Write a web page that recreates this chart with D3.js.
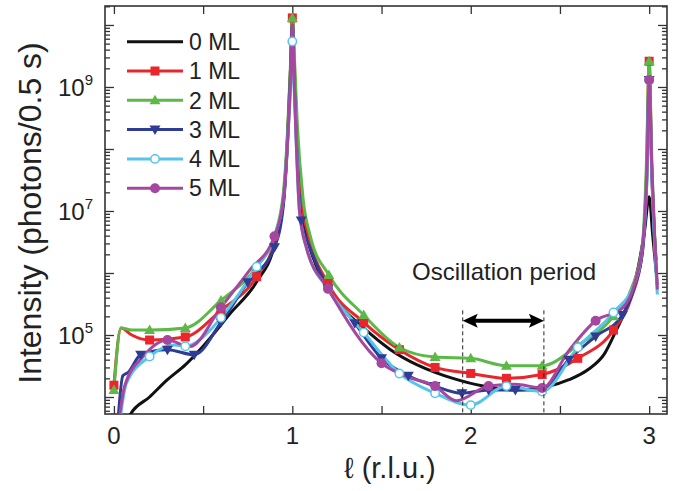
<!DOCTYPE html>
<html>
<head>
<meta charset="utf-8">
<script src="https://cdn.jsdelivr.net/npm/d3@7"></script>
<style>
  body { margin: 0; background: #fff; }
  text { font-family: "Liberation Sans", Arial, sans-serif; fill: #222; }
</style>
</head>
<body>
<svg id="chart" width="677" height="491"></svg>
<script>
// series names, colours and symbols
const names = ["0 ML", "1 ML", "2 ML", "3 ML", "4 ML", "5 ML"];
const colors = ["#111111", "#e8262b", "#5cb947", "#2e3c96", "#56c5ea", "#a6479f"];
const symbols = [null, "square", "up", "down", "open", "circle"];

// [l, intensity, marker?]
const ml0 = [[0.03, 1e3], [0.09, 5.1e3], [0.2, 1.0e4], [0.3, 1.9e4], [0.4, 3.3e4], [0.5, 6.6e4],
  [0.65, 2.2e5], [0.8, 7.2e5], [0.9, 2.8e6], [0.95, 1.4e7], [0.975, 2e8], [0.99, 2e9], [1.0, 1.26e10],
  [1.012, 1.6e9], [1.025, 1.6e8], [1.045, 1.6e7], [1.08, 4e6], [1.13, 1.4e6], [1.227, 4.2e5],
  [1.4, 1.3e5], [1.55, 5.8e4], [1.7, 3.3e4], [1.8, 2.5e4], [1.9, 2e4], [2.07, 1.5e4], [2.25, 1.3e4],
  [2.44, 1.5e4], [2.55, 1.9e4], [2.66, 2.8e4], [2.75, 5e4], [2.81, 1.1e5], [2.88, 3.2e5], [2.94, 1.3e6],
  [2.975, 5e6], [3.0, 1.7e7], [3.02, 4e6], [3.04, 1e6]];

const ml1 = [[0.0, 1.55e4, 1], [0.04, 1.3e5], [0.1, 1.0e5], [0.2, 8.3e4, 1], [0.4, 9.3e4, 1],
  [0.6, 2.5e5, 1], [0.8, 8.7e5, 1], [0.9, 3.2e6], [0.95, 1.6e7], [0.975, 2e8], [0.99, 2e9],
  [1.0, 1.3e10, 1], [1.012, 2e9], [1.025, 2e8], [1.05, 1.6e7], [1.09, 4e6], [1.2, 6.8e5, 1],
  [1.4, 1.6e5, 1], [1.6, 5.8e4, 1], [1.8, 3e4, 1], [2.0, 2.4e4, 1], [2.2, 2.0e4, 1], [2.4, 2.3e4, 1],
  [2.6, 4.2e4, 1], [2.8, 1.2e5, 1], [2.9, 4e5], [2.96, 2e6], [2.985, 4e7], [3.0, 2.6e9, 1],
  [3.015, 4e7], [3.03, 4e6], [3.04, 1.6e6]];

const ml2 = [[0.0, 1.3e4, 1], [0.04, 1.3e5], [0.1, 1.2e5], [0.2, 1.2e5, 1], [0.4, 1.3e5, 1],
  [0.6, 3.6e5, 1], [0.8, 1.26e6, 1], [0.9, 4e6], [0.95, 2e7], [0.975, 2.5e8], [0.99, 2.5e9],
  [1.0, 1.3e10, 1], [1.013, 2.5e9], [1.028, 2.5e8], [1.06, 1.6e7], [1.1, 4e6], [1.205, 9.3e5, 1],
  [1.4, 2.1e5, 1], [1.6, 6.3e4, 1], [1.8, 4.4e4, 1], [2.0, 4.2e4, 1], [2.2, 3.2e4, 1], [2.4, 3.2e4, 1],
  [2.6, 6.8e4, 1], [2.8, 2e5, 1], [2.9, 5.6e5], [2.96, 2.5e6], [2.985, 6.3e7], [3.0, 2.6e9, 1],
  [3.015, 6.3e7], [3.037, 1.6e6]];

const ml3 = [[0.02, 3.2e3], [0.05, 2.2e4], [0.08, 2.5e4], [0.15, 4.8e4, 1], [0.3, 5.8e4, 1],
  [0.45, 4.8e4, 1], [0.6, 1.6e5, 1], [0.75, 7.1e5, 1], [0.9, 2.6e6, 1], [0.95, 1.26e7],
  [0.975, 1.6e8], [0.99, 1.6e9], [1.0, 1e10], [1.012, 1e9], [1.025, 1e8], [1.05, 7e6, 1],
  [1.1, 2.5e6], [1.2, 5.6e5, 1], [1.35, 1.55e5, 1], [1.5, 4.2e4, 1], [1.65, 2.2e4, 1],
  [1.8, 1.5e4, 1], [1.95, 1.15e4, 1], [2.1, 1.3e4, 1], [2.25, 1.3e4, 1], [2.4, 1.3e4, 1],
  [2.55, 4e4, 1], [2.7, 9.5e4, 1], [2.85, 2.1e5, 1], [2.92, 6.3e5], [2.965, 2.5e6], [2.988, 4e7],
  [3.0, 1.3e9, 1], [3.015, 4e7], [3.035, 2e6], [3.045, 6.3e5]];

const ml4 = [[0.02, 2e3], [0.07, 1.66e4], [0.2, 4.5e4, 1], [0.336, 6.9e4], [0.4, 6.6e4, 1],
  [0.556, 1.35e5], [0.6, 1.9e5, 1], [0.8, 1.26e6, 1], [0.9, 4e6], [0.95, 1.6e7], [0.975, 1.6e8],
  [0.99, 1e9], [1.0, 5.4e9, 1], [1.01, 1e9], [1.022, 1.26e8], [1.04, 1e7], [1.08, 2.5e6],
  [1.2, 5.5e5, 1], [1.4, 1.1e5, 1], [1.6, 2.4e4, 1], [1.8, 1.15e4, 1], [2.0, 7.4e3, 1],
  [2.2, 1.5e4, 1], [2.4, 1.23e4, 1], [2.6, 6.3e4, 1], [2.8, 2.3e5, 1], [2.92, 7e5], [2.965, 3.2e6],
  [2.988, 4e7], [3.0, 1.3e9, 1], [3.015, 4e7], [3.035, 1.6e6], [3.046, 4.5e5]];

const ml5 = [[0.02, 2.5e3], [0.06, 1.5e4], [0.164, 4.5e4], [0.3, 8.3e4, 1], [0.425, 6.5e4],
  [0.6, 2.8e5, 1], [0.76, 1.1e6], [0.9, 3.9e6, 1], [0.95, 1.6e7], [0.975, 1.6e8], [0.99, 1.26e9],
  [1.0, 1e10], [1.01, 1.26e9], [1.022, 1.26e8], [1.04, 1e7], [1.08, 2.5e6], [1.2, 5.6e5, 1],
  [1.5, 3.5e4, 1], [1.65, 2.1e4], [1.8, 1.5e4, 1], [1.92, 8.7e3], [2.1, 1.5e4, 1], [2.25, 1.6e4],
  [2.4, 1.4e4, 1], [2.55, 5.6e4], [2.7, 1.7e5, 1], [2.85, 2.7e5], [2.92, 7e5], [2.965, 3.2e6],
  [2.988, 5e7], [3.0, 1.3e9, 1], [3.015, 5e7], [3.032, 3.2e6], [3.046, 5.4e5]];

const series = [ml0, ml1, ml2, ml3, ml4, ml5];

// axis ticks
const xMajor = [0, 1, 2, 3];
const xMinor = [0.5, 1.5, 2.5];
const yLabelled = [5, 7, 9];

// period marker (l range and height)
const periodL = [1.955, 2.41];
const periodArrowY = 1.7e5;
const periodDashTop = 2.5e5;

const svg = d3.select("#chart");
const pLeft = 105, pRight = 667, pTop = 6, pBottom = 414;

const x = d3.scaleLinear().domain([-0.05, 3.1]).range([pLeft, pRight]);
const y = d3.scaleLog().domain([Math.pow(10, 3.726), Math.pow(10, 10.306)]).range([pBottom, pTop]);

svg.append("defs").append("clipPath").attr("id", "clip")
  .append("rect").attr("x", pLeft).attr("y", pTop).attr("width", pRight - pLeft).attr("height", pBottom - pTop);

// y ticks: majors every decade, minors 2..9
let yMaj = [], yMin = [];
for (let d = 3; d <= 10; d++) {
  const v = Math.pow(10, d);
  if (v >= y.domain()[0] && v <= y.domain()[1]) yMaj.push(v);
  for (let k = 2; k <= 9; k++) {
    const m = k * v;
    if (m >= y.domain()[0] && m <= y.domain()[1]) yMin.push(m);
  }
}

const tickStyle = g => {
  g.select(".domain").remove();
  g.selectAll("line").attr("stroke", "#333").attr("stroke-width", 1.3);
};

svg.append("g").attr("transform", `translate(${pLeft},0)`)
  .call(d3.axisLeft(y).tickValues(yMaj).tickSize(-9).tickFormat(""))
  .call(tickStyle);
svg.append("g").attr("transform", `translate(${pLeft},0)`)
  .call(d3.axisLeft(y).tickValues(yMin).tickSize(-5).tickFormat(""))
  .call(tickStyle);
svg.append("g").attr("transform", `translate(${pRight},0)`)
  .call(d3.axisRight(y).tickValues(yMaj).tickSize(-9).tickFormat(""))
  .call(tickStyle);
svg.append("g").attr("transform", `translate(${pRight},0)`)
  .call(d3.axisRight(y).tickValues(yMin).tickSize(-5).tickFormat(""))
  .call(tickStyle);

svg.append("g").attr("transform", `translate(0,${pBottom})`)
  .call(d3.axisBottom(x).tickValues(xMajor.concat(xMinor)).tickSize(-8).tickFormat(""))
  .call(tickStyle);
svg.append("g").attr("transform", `translate(0,${pTop})`)
  .call(d3.axisTop(x).tickValues(xMajor.concat(xMinor)).tickSize(-8).tickFormat(""))
  .call(tickStyle);

// x tick labels
svg.selectAll(".xlab").data(xMajor).join("text")
  .attr("x", d => x(d)).attr("y", 444)
  .attr("text-anchor", "middle").attr("font-size", 24)
  .text(d => d);

// y tick labels 10^n
const ylab = svg.selectAll(".ylab").data(yLabelled).join("text")
  .attr("x", 93).attr("y", d => y(Math.pow(10, d)) + 9)
  .attr("text-anchor", "end").attr("font-size", 24);
ylab.append("tspan").text("10");
ylab.append("tspan").attr("font-size", 15).attr("dy", -11).text(d => d);

// frame
svg.append("rect").attr("x", pLeft).attr("y", pTop).attr("width", pRight - pLeft).attr("height", pBottom - pTop)
  .attr("fill", "none").attr("stroke", "#333").attr("stroke-width", 1.6);

// axis titles
svg.append("text").attr("x", 390).attr("y", 478).attr("text-anchor", "middle").attr("font-size", 29)
  .text("ℓ (r.l.u.)");
svg.append("text").attr("transform", "translate(41,213) rotate(-90)").attr("text-anchor", "middle")
  .attr("font-size", 32).text("Intensity (photons/0.5 s)");

// lines
const line = d3.line().x(d => x(d[0])).y(d => y(d[1])).curve(d3.curveMonotoneX);
const plot = svg.append("g").attr("clip-path", "url(#clip)");

series.forEach((s, i) => {
  plot.append("path").datum(s)
    .attr("fill", "none").attr("stroke", colors[i]).attr("stroke-width", 3)
    .attr("stroke-linejoin", "round").attr("d", line);
});

function drawSymbol(g, type, cx, cy, color) {
  if (type === "square") {
    g.append("rect").attr("x", cx - 4.5).attr("y", cy - 4.5).attr("width", 9).attr("height", 9).attr("fill", color);
  } else if (type === "up") {
    g.append("path").attr("d", `M${cx},${cy - 5.5}L${cx + 5.5},${cy + 4}L${cx - 5.5},${cy + 4}Z`).attr("fill", color);
  } else if (type === "down") {
    g.append("path").attr("d", `M${cx},${cy + 5.5}L${cx + 5.5},${cy - 4}L${cx - 5.5},${cy - 4}Z`).attr("fill", color);
  } else if (type === "open") {
    g.append("circle").attr("cx", cx).attr("cy", cy).attr("r", 4.2).attr("fill", "#fff").attr("stroke", color).attr("stroke-width", 1.5);
  } else if (type === "circle") {
    g.append("circle").attr("cx", cx).attr("cy", cy).attr("r", 5).attr("fill", color);
  }
}

series.forEach((s, i) => {
  if (!symbols[i]) return;
  s.filter(d => d[2]).forEach(d => drawSymbol(plot, symbols[i], x(d[0]), y(d[1]), colors[i]));
});

// legend
names.forEach((n, i) => {
  const ly = 41.7 + i * 29.3;
  svg.append("line").attr("x1", 127).attr("x2", 183).attr("y1", ly).attr("y2", ly)
    .attr("stroke", colors[i]).attr("stroke-width", 3);
  if (symbols[i]) drawSymbol(svg, symbols[i], 155, ly, colors[i]);
  svg.append("text").attr("x", 189).attr("y", ly).attr("dy", "0.36em").attr("font-size", 23).text(n);
});

// oscillation period annotation
svg.selectAll(".dash").data(periodL).join("line")
  .attr("x1", d => x(d)).attr("x2", d => x(d))
  .attr("y1", y(periodDashTop)).attr("y2", pBottom)
  .attr("stroke", "#222").attr("stroke-width", 1).attr("stroke-dasharray", "4,3");

const ay = y(periodArrowY);
const ax0 = x(periodL[0]), ax1 = x(periodL[1]);
svg.append("line").attr("x1", ax0 + 10).attr("x2", ax1 - 10).attr("y1", ay).attr("y2", ay)
  .attr("stroke", "#000").attr("stroke-width", 4);
svg.append("path").attr("d", `M${ax0},${ay}L${ax0 + 15},${ay - 7}L${ax0 + 12},${ay}L${ax0 + 15},${ay + 7}Z`).attr("fill", "#000");
svg.append("path").attr("d", `M${ax1},${ay}L${ax1 - 15},${ay - 7}L${ax1 - 12},${ay}L${ax1 - 15},${ay + 7}Z`).attr("fill", "#000");

svg.append("text").attr("x", 412).attr("y", 280).attr("font-size", 24).text("Oscillation period");
</script>
</body>
</html>
